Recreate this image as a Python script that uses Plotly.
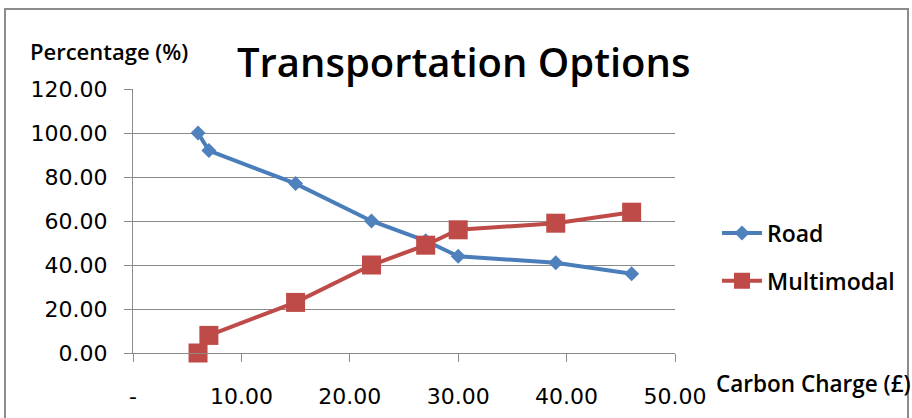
import plotly.graph_objects as go

# Carbon charge (GBP) and the share of freight moved by each option (%)
carbon_charge = [6, 7, 15, 22, 27, 30, 39, 46]
road_share = [100, 92, 77, 60, 51, 44, 41, 36]
multimodal_share = [0, 8, 23, 40, 49, 56, 59, 64]

x_ticks = [0, 10, 20, 30, 40, 50]
x_tick_labels = ["-", "10.00", "20.00", "30.00", "40.00", "50.00"]
y_ticks = [0, 20, 40, 60, 80, 100, 120]
y_tick_labels = ["0.00", "20.00", "40.00", "60.00", "80.00", "100.00", "120.00"]

W, H = 912, 418
L, R, T, B = 133, 237, 89, 65
PW, PH = W - L - R, H - T - B


def px(xp):
    return (xp - L) / PW


def py(yp):
    return (H - B - yp) / PH


BLUE_LINE = "#4A7EBB"
BLUE_MARK = "#4F81BD"
RED = "#BE4B48"
GRID = "#8A8A8A"
TEXT_FONT = "Open Sans"
TICK_FONT = "DejaVu Sans"

fig = go.Figure()
fig.add_trace(go.Scatter(
    x=carbon_charge, y=road_share, name="Road", mode="lines+markers",
    legendgroup="road",
    line=dict(color=BLUE_LINE, width=4),
    marker=dict(symbol="diamond", size=11.5, color=BLUE_MARK),
    cliponaxis=False,
))
fig.add_trace(go.Scatter(
    x=carbon_charge, y=multimodal_share, name="Multimodal", mode="lines+markers",
    legendgroup="multimodal",
    line=dict(color=RED, width=4),
    marker=dict(symbol="square", size=19, color=RED),
    cliponaxis=False,
))

fig.update_layout(
    width=W, height=H,
    margin=dict(l=L, r=R, t=T, b=B),
    paper_bgcolor="white", plot_bgcolor="white",
    showlegend=True,
    legend=dict(
        x=px(717), y=py(257), xanchor="left", yanchor="middle",
        font=dict(family=TEXT_FONT, size=23, color="black", weight=600),
        tracegroupgap=15, itemwidth=40, bgcolor="rgba(0,0,0,0)",
    ),
    xaxis=dict(
        range=[0, 50], tickvals=x_ticks, ticktext=x_tick_labels,
        automargin=False,
        showgrid=False, zeroline=False,
        showline=True, linecolor=GRID, linewidth=1,
        ticks="outside", ticklen=8, tickcolor=GRID, tickwidth=1,
        ticklabelstandoff=16,
        tickfont=dict(family=TICK_FONT, size=22, color="black"),
    ),
    yaxis=dict(
        range=[0, 120], tickvals=y_ticks, ticktext=y_tick_labels,
        automargin=False,
        showgrid=True, gridcolor=GRID, gridwidth=1.2, zeroline=False,
        showline=True, linecolor=GRID, linewidth=1,
        ticks="outside", ticklen=8, tickcolor=GRID, tickwidth=1,
        ticklabelstandoff=12,
        tickfont=dict(family=TICK_FONT, size=22, color="black"),
    ),
    shapes=[dict(
        type="rect", xref="paper", yref="paper",
        x0=px(5), x1=px(908), y0=py(422), y1=py(9),
        line=dict(color="#8C8C8C", width=2), fillcolor="rgba(0,0,0,0)",
        layer="below",
    )],
    annotations=[
        dict(text="Transportation Options", xref="paper", yref="paper",
             x=px(463), y=py(62), xanchor="center", yanchor="middle",
             showarrow=False,
             font=dict(family=TEXT_FONT, size=40, color="black", weight=600)),
        dict(text="Percentage (%)", xref="paper", yref="paper",
             x=px(28), y=py(51), xanchor="left", yanchor="middle",
             showarrow=False,
             font=dict(family=TEXT_FONT, size=22, color="black", weight=600)),
        dict(text="Carbon Charge (£)", xref="paper", yref="paper",
             x=px(714), y=py(383), xanchor="left", yanchor="middle",
             showarrow=False,
             font=dict(family=TEXT_FONT, size=22.5, color="black", weight=600)),
    ],
)

fig.write_html("out.html")
